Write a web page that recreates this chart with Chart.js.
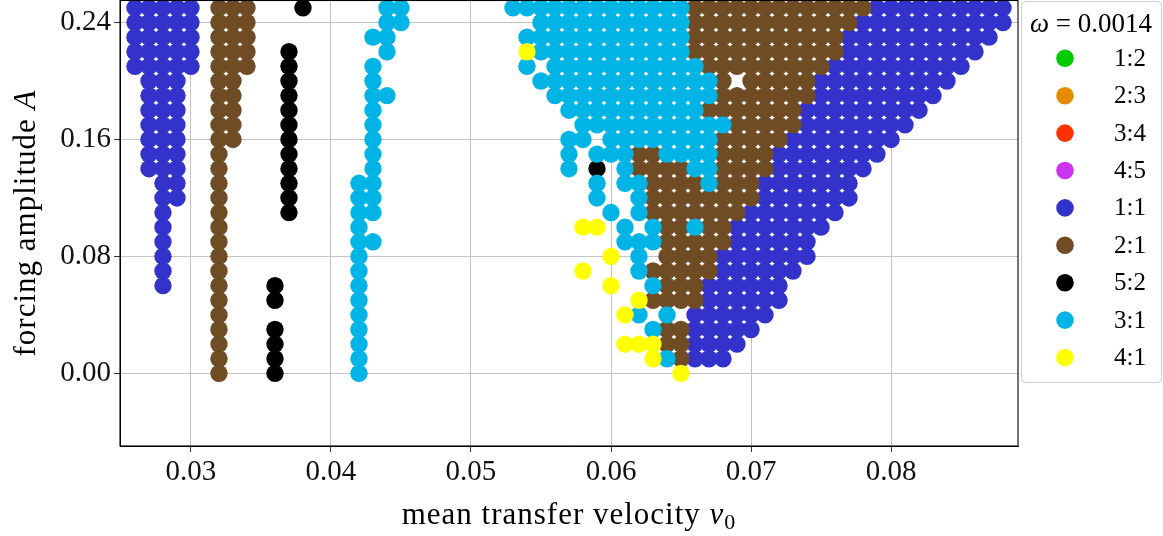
<!DOCTYPE html>
<html>
<head>
<meta charset="utf-8">
<script src="https://cdn.jsdelivr.net/npm/chart.js@4.4.0/dist/chart.umd.min.js"></script>
<style>
  html, body { margin: 0; padding: 0; background: #fff; }
  #wrap { width: 1163px; height: 536px; }
</style>
</head>
<body>
<div id="wrap"><canvas id="lockChart" width="1163" height="536"></canvas></div>
<script>
// locking ratios shown in the legend, with their colours
var ratioLabels = ['1:2', '2:3', '3:4', '4:5', '1:1', '2:1', '5:2', '3:1', '4:1'];
var ratioColors = ['#00cc00', '#e68a00', '#ff3300', '#cc33ee', '#3333cc', '#704c25', '#000000', '#00b5e5', '#ffff00'];
var omega = 0.0014;

// tick values
var v0Ticks = [0.03, 0.04, 0.05, 0.06, 0.07, 0.08];
var ampTicks = [0.00, 0.08, 0.16, 0.24];

// every run is [A, first v0, last v0]; v0 is sampled every 0.001
var lock12 = [];
var lock23 = [];
var lock34 = [];
var lock45 = [];

var lock11 = [
  [0.25, 0.026, 0.030], [0.24, 0.026, 0.030], [0.23, 0.026, 0.030], [0.22, 0.026, 0.030], [0.21, 0.026, 0.030],
  [0.20, 0.027, 0.029], [0.19, 0.027, 0.029], [0.18, 0.027, 0.029], [0.17, 0.027, 0.029], [0.16, 0.027, 0.029],
  [0.15, 0.027, 0.029], [0.14, 0.027, 0.029], [0.13, 0.028, 0.029], [0.12, 0.028, 0.029],
  [0.11, 0.028, 0.028], [0.10, 0.028, 0.028], [0.09, 0.028, 0.028], [0.08, 0.028, 0.028], [0.07, 0.028, 0.028], [0.06, 0.028, 0.028],
  [0.25, 0.079, 0.088], [0.24, 0.078, 0.088], [0.23, 0.077, 0.087], [0.22, 0.077, 0.086], [0.21, 0.076, 0.085],
  [0.20, 0.075, 0.084], [0.19, 0.075, 0.083], [0.18, 0.074, 0.082], [0.17, 0.074, 0.081], [0.16, 0.073, 0.080],
  [0.15, 0.072, 0.079], [0.14, 0.072, 0.078], [0.13, 0.071, 0.077], [0.12, 0.071, 0.077], [0.11, 0.070, 0.076],
  [0.10, 0.069, 0.075], [0.09, 0.069, 0.074], [0.08, 0.068, 0.074], [0.07, 0.068, 0.073], [0.06, 0.067, 0.072],
  [0.05, 0.067, 0.072], [0.04, 0.066, 0.071], [0.03, 0.066, 0.070], [0.02, 0.066, 0.069], [0.01, 0.066, 0.068]
];

var lock21 = [
  [0.25, 0.032, 0.034], [0.24, 0.032, 0.034], [0.23, 0.032, 0.034], [0.22, 0.032, 0.034], [0.21, 0.032, 0.034],
  [0.20, 0.032, 0.033], [0.19, 0.032, 0.033], [0.18, 0.032, 0.033], [0.17, 0.032, 0.033], [0.16, 0.032, 0.033],
  [0.15, 0.032, 0.032], [0.14, 0.032, 0.032], [0.13, 0.032, 0.032], [0.12, 0.032, 0.032], [0.11, 0.032, 0.032],
  [0.10, 0.032, 0.032], [0.09, 0.032, 0.032], [0.08, 0.032, 0.032], [0.07, 0.032, 0.032], [0.06, 0.032, 0.032],
  [0.05, 0.032, 0.032], [0.04, 0.032, 0.032], [0.03, 0.032, 0.032], [0.02, 0.032, 0.032], [0.01, 0.032, 0.032],
  [0.00, 0.032, 0.032],
  [0.25, 0.066, 0.078], [0.24, 0.066, 0.077], [0.23, 0.066, 0.076], [0.22, 0.066, 0.076], [0.21, 0.067, 0.075],
  [0.20, 0.068, 0.068], [0.20, 0.070, 0.074], [0.19, 0.068, 0.074], [0.18, 0.067, 0.073], [0.17, 0.069, 0.073],
  [0.16, 0.068, 0.072], [0.15, 0.062, 0.063], [0.15, 0.068, 0.071], [0.14, 0.062, 0.065], [0.14, 0.068, 0.071],
  [0.13, 0.063, 0.066], [0.13, 0.068, 0.070], [0.12, 0.063, 0.070], [0.11, 0.063, 0.069],
  [0.10, 0.064, 0.065], [0.10, 0.067, 0.068], [0.09, 0.064, 0.068], [0.08, 0.064, 0.067], [0.07, 0.063, 0.067],
  [0.06, 0.064, 0.066], [0.05, 0.063, 0.066], [0.03, 0.064, 0.065], [0.02, 0.064, 0.065], [0.01, 0.065, 0.065]
];

var lock52 = [
  [0.25, 0.038, 0.038],
  [0.22, 0.037, 0.037], [0.21, 0.037, 0.037], [0.20, 0.037, 0.037], [0.19, 0.037, 0.037], [0.18, 0.037, 0.037],
  [0.17, 0.037, 0.037], [0.16, 0.037, 0.037], [0.15, 0.037, 0.037], [0.14, 0.037, 0.037], [0.13, 0.037, 0.037],
  [0.12, 0.037, 0.037], [0.11, 0.037, 0.037],
  [0.06, 0.036, 0.036], [0.05, 0.036, 0.036], [0.03, 0.036, 0.036], [0.02, 0.036, 0.036], [0.01, 0.036, 0.036],
  [0.00, 0.036, 0.036],
  [0.14, 0.059, 0.059]
];

var lock31 = [
  [0.25, 0.044, 0.045], [0.24, 0.044, 0.045], [0.23, 0.043, 0.044], [0.22, 0.044, 0.044], [0.21, 0.043, 0.043],
  [0.20, 0.043, 0.043], [0.19, 0.043, 0.044], [0.18, 0.043, 0.043], [0.17, 0.043, 0.043], [0.16, 0.043, 0.043],
  [0.15, 0.043, 0.043], [0.14, 0.043, 0.043], [0.13, 0.042, 0.043], [0.12, 0.042, 0.043], [0.11, 0.042, 0.043],
  [0.10, 0.042, 0.042], [0.09, 0.042, 0.043], [0.08, 0.042, 0.042], [0.07, 0.042, 0.042], [0.06, 0.042, 0.042],
  [0.05, 0.042, 0.042], [0.04, 0.042, 0.042], [0.03, 0.042, 0.042], [0.02, 0.042, 0.042], [0.01, 0.042, 0.042],
  [0.00, 0.042, 0.042],
  [0.25, 0.053, 0.065], [0.24, 0.055, 0.065], [0.23, 0.054, 0.065], [0.22, 0.055, 0.065],
  [0.21, 0.054, 0.054], [0.21, 0.056, 0.066], [0.20, 0.055, 0.067], [0.19, 0.056, 0.067], [0.18, 0.057, 0.066],
  [0.17, 0.058, 0.068], [0.16, 0.057, 0.058], [0.16, 0.060, 0.067],
  [0.15, 0.057, 0.057], [0.15, 0.059, 0.061], [0.15, 0.064, 0.067],
  [0.14, 0.057, 0.057], [0.14, 0.061, 0.061], [0.14, 0.066, 0.067],
  [0.13, 0.059, 0.059], [0.13, 0.061, 0.062], [0.13, 0.067, 0.067],
  [0.12, 0.059, 0.059], [0.12, 0.062, 0.062], [0.11, 0.060, 0.060], [0.11, 0.062, 0.062],
  [0.10, 0.061, 0.061], [0.10, 0.063, 0.063], [0.10, 0.066, 0.066], [0.09, 0.061, 0.063],
  [0.08, 0.062, 0.062], [0.07, 0.062, 0.062], [0.06, 0.063, 0.063],
  [0.04, 0.062, 0.062], [0.04, 0.064, 0.064], [0.03, 0.063, 0.063], [0.01, 0.064, 0.064]
];

var lock41 = [
  [0.22, 0.054, 0.054], [0.10, 0.058, 0.059], [0.08, 0.060, 0.060], [0.07, 0.058, 0.058], [0.06, 0.060, 0.060],
  [0.05, 0.062, 0.062], [0.04, 0.061, 0.061], [0.02, 0.061, 0.063], [0.01, 0.063, 0.063], [0.00, 0.065, 0.065]
];

var lockRuns = [lock12, lock23, lock34, lock45, lock11, lock21, lock52, lock31, lock41];

var serif = "'Liberation Serif', 'DejaVu Serif', serif";

// expand the runs into grid points
function toPoints(runs) {
  var pts = [];
  runs.forEach(function (r) {
    for (var k = Math.round(r[1] * 1000); k <= Math.round(r[2] * 1000); k++) {
      pts.push({ x: k / 1000, y: r[0] });
    }
  });
  return pts;
}

var datasets = lockRuns.map(function (runs, i) {
  return {
    label: ratioLabels[i],
    data: toPoints(runs),
    backgroundColor: ratioColors[i],
    borderWidth: 0,
    pointRadius: 8.7,
    pointHoverRadius: 8.7,
    clip: 0,
    // later ratios sit on top
    order: lockRuns.length - i
  };
});

// draw text made of pieces with different fonts
function drawPieces(ctx, pieces, x, y, align) {
  var total = 0;
  pieces.forEach(function (p) { ctx.font = p.font; total += ctx.measureText(p.text).width; });
  var cx = align === 'center' ? x - total / 2 : x;
  pieces.forEach(function (p) {
    ctx.font = p.font;
    ctx.fillText(p.text, cx, y + (p.dy || 0));
    cx += ctx.measureText(p.text).width;
  });
}

var decorations = {
  id: 'decorations',
  afterDraw: function (chart) {
    var ctx = chart.ctx, a = chart.chartArea;
    ctx.save();

    // frame round the plot
    ctx.strokeStyle = '#000';
    ctx.lineWidth = 1.1;
    ctx.strokeRect(a.left, a.top + 0.5, a.right - a.left, a.bottom - a.top - 0.5);

    // axis titles
    ctx.fillStyle = '#000';
    ctx.textBaseline = 'alphabetic';
    ctx.letterSpacing = '1px';
    drawPieces(ctx, [
      { text: 'mean transfer velocity ', font: '31px ' + serif },
      { text: 'v', font: 'italic 31px ' + serif },
      { text: '0', font: '22px ' + serif, dy: 5 }
    ], (a.left + a.right) / 2, 524, 'center');

    ctx.save();
    ctx.translate(35, (a.top + a.bottom) / 2);
    ctx.rotate(-Math.PI / 2);
    drawPieces(ctx, [
      { text: 'forcing amplitude ', font: '31px ' + serif },
      { text: 'A', font: 'italic 31px ' + serif }
    ], 0, 0, 'center');
    ctx.restore();
    ctx.letterSpacing = '0px';

    // legend box
    var bx = 1021.5, by = 1.5, bw = 140, bh = 381;
    ctx.beginPath();
    ctx.roundRect(bx, by, bw, bh, 4);
    ctx.fillStyle = '#fff';
    ctx.fill();
    ctx.strokeStyle = '#cccccc';
    ctx.lineWidth = 1;
    ctx.stroke();

    ctx.fillStyle = '#000';
    drawPieces(ctx, [
      { text: '\u03c9', font: 'italic 27px ' + serif },
      { text: ' = ' + omega.toFixed(4), font: '27px ' + serif }
    ], 1091, 32, 'center');

    ctx.textBaseline = 'middle';
    chart.data.datasets.forEach(function (ds, i) {
      var y = 58.3 + i * 37.4;
      ctx.beginPath();
      ctx.arc(1065, y, 8.8, 0, Math.PI * 2);
      ctx.fillStyle = ds.backgroundColor;
      ctx.fill();
      ctx.fillStyle = '#000';
      ctx.font = '25px ' + serif;
      ctx.fillText(ds.label, 1114, y + 1);
    });
    ctx.restore();
  }
};

new Chart(document.getElementById('lockChart'), {
  type: 'scatter',
  data: { datasets: datasets },
  options: {
    responsive: false,
    animation: false,
    devicePixelRatio: 1,
    events: [],
    layout: { autoPadding: false, padding: { top: 0, right: 145, bottom: 0, left: 0 } },
    plugins: {
      legend: { display: false },
      tooltip: { enabled: false }
    },
    scales: {
      x: {
        type: 'linear',
        min: 0.02493,
        max: 0.08907,
        afterBuildTicks: function (scale) {
          scale.ticks = v0Ticks.map(function (v) { return { value: v }; });
        },
        afterFit: function (scale) {
          scale.height = 90;
          scale.paddingLeft = 0;
          scale.paddingRight = 0;
        },
        ticks: {
          autoSkip: false,
          maxRotation: 0,
          padding: 3,
          color: '#111',
          font: { family: serif, size: 29 },
          callback: function (v) { return v.toFixed(2); }
        },
        grid: { color: '#c4c4c4', lineWidth: 1, tickLength: 6, tickColor: '#333' },
        border: { display: true, color: '#000', width: 1 }
      },
      y: {
        type: 'linear',
        min: -0.0497,
        max: 0.2554,
        afterBuildTicks: function (scale) {
          scale.ticks = ampTicks.map(function (v) { return { value: v }; });
        },
        afterFit: function (scale) {
          scale.width = 120;
          scale.paddingTop = 0;
          scale.paddingBottom = 0;
        },
        ticks: {
          autoSkip: false,
          padding: 3,
          color: '#111',
          font: { family: serif, size: 29 },
          callback: function (v) { return v.toFixed(2); }
        },
        grid: { color: '#c4c4c4', lineWidth: 1, tickLength: 6, tickColor: '#333' },
        border: { display: true, color: '#000', width: 1 }
      }
    }
  },
  plugins: [decorations]
});
</script>
</body>
</html>
